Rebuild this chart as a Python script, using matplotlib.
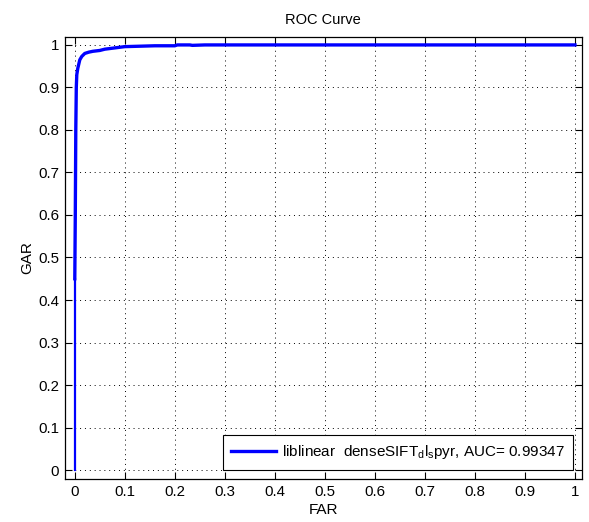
import numpy as np
from matplotlib import pyplot as plt

plt.rcParams['font.family'] = ['Liberation Sans', 'DejaVu Sans']
plt.rcParams['mathtext.default'] = 'regular'

# ROC points
far = [0.0, 0.0, 0.001, 0.002, 0.003, 0.004, 0.006, 0.008, 0.010, 0.014,
       0.020, 0.028, 0.036, 0.050, 0.060, 0.080, 0.100, 0.130, 0.160,
       0.200, 0.205, 0.230, 0.235, 0.260, 0.400, 0.700, 1.0]
gar = [0.0, 0.45, 0.60, 0.80, 0.90, 0.93, 0.945, 0.955, 0.965, 0.973,
       0.980, 0.983, 0.985, 0.987, 0.990, 0.993, 0.996, 0.997, 0.998,
       0.998, 1.0, 1.0, 0.999, 1.0, 1.0, 1.0, 1.0]
auc = 0.99347
label = r'liblinear  denseSIFT$_{d}$l$_{s}$pyr, AUC= %.5f' % auc

fig = plt.figure(figsize=(5.89, 5.22), dpi=100)
ax = fig.add_axes([0.110, 0.0824, 0.878, 0.847])

# lower vertical part is drawn thinner in the reference
ax.plot(far[:2], gar[:2], color='#0000ff', lw=1.6)
ax.plot(far[1:], gar[1:], color='#0000ff', lw=2.4, label=label)

ax.set_xlim(-0.02, 1.014)
ax.set_ylim(-0.021, 1.019)
ax.set_xticks(np.arange(0, 1.01, 0.1))
ax.set_yticks(np.arange(0, 1.01, 0.1))
ax.set_xticklabels(['0', '0.1', '0.2', '0.3', '0.4', '0.5', '0.6', '0.7', '0.8', '0.9', '1'])
ax.set_yticklabels(['0', '0.1', '0.2', '0.3', '0.4', '0.5', '0.6', '0.7', '0.8', '0.9', '1'])
ax.tick_params(direction='in', top=True, right=True, length=5, width=0.8,
               labelsize=10.8, pad=4)
ax.grid(True, color='black', linestyle=(0, (1, 4)), linewidth=0.7)
for s in ax.spines.values():
    s.set_linewidth(0.9)

ax.set_title('ROC Curve', fontsize=10.5, pad=9)
ax.set_xlabel('FAR', fontsize=11, labelpad=3)
ax.set_ylabel('GAR', fontsize=11, labelpad=3)

leg = ax.legend(loc='lower right', fontsize=11, fancybox=False, framealpha=1,
                edgecolor='black', handlelength=2.9, handletextpad=0.4,
                borderaxespad=0.6, borderpad=0.55)
leg.get_frame().set_linewidth(0.8)

fig.savefig('out.png', dpi=100)
